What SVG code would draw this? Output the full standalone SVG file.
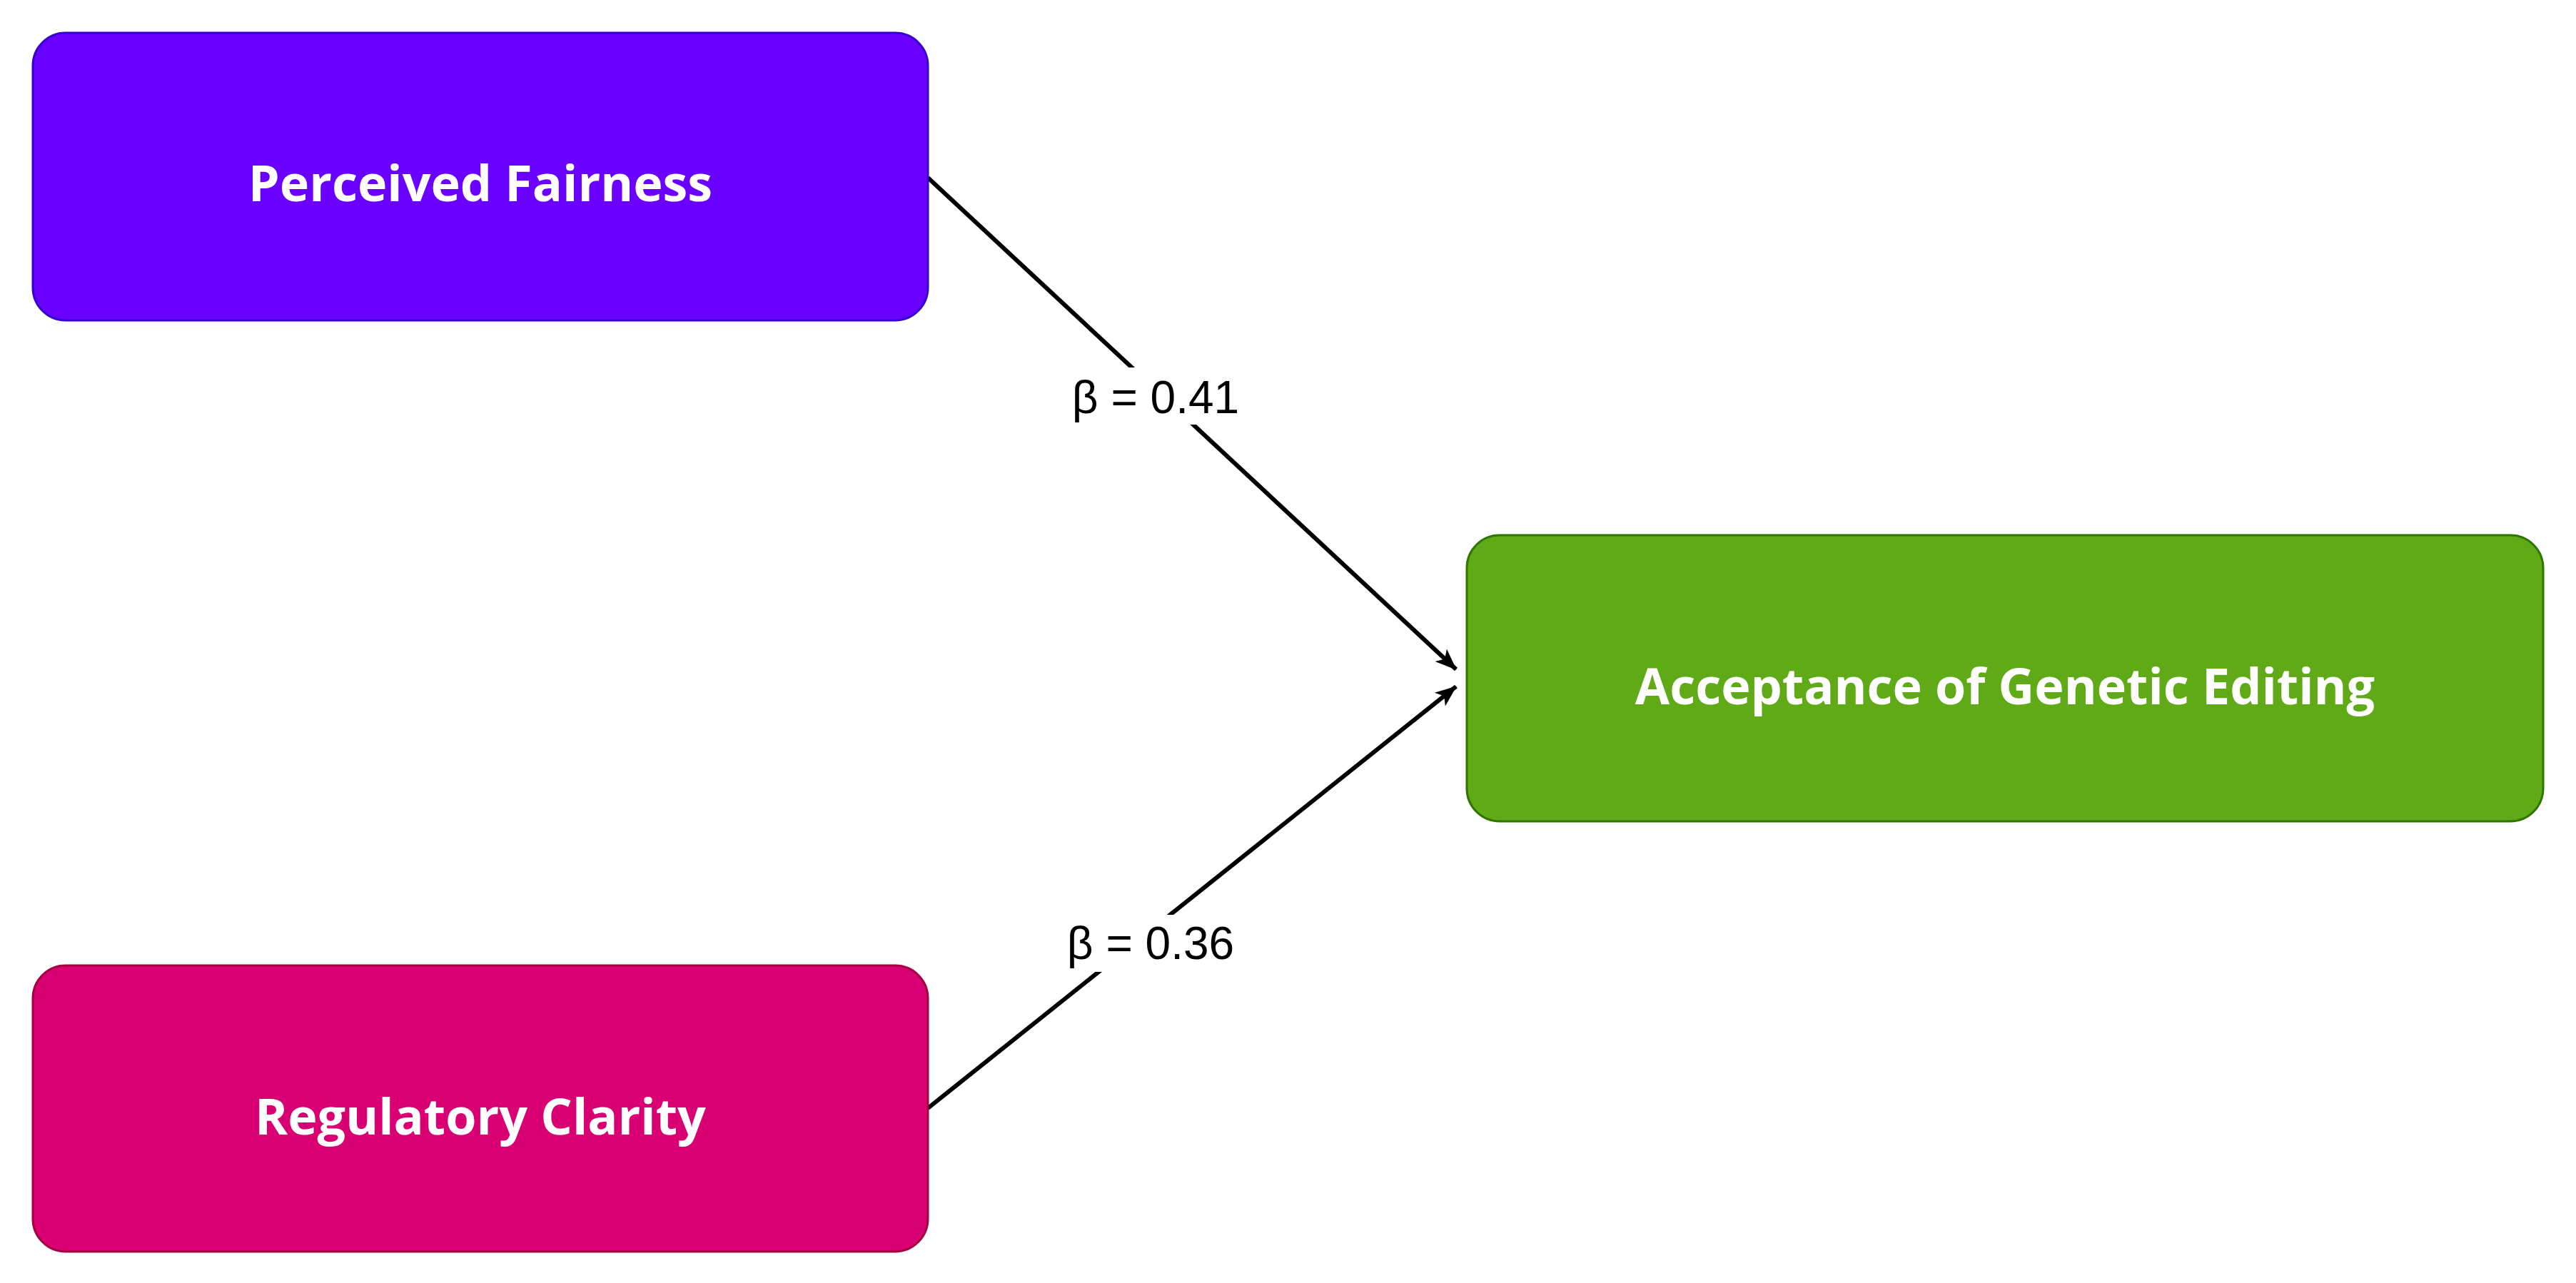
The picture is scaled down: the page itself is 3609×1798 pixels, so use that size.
<svg xmlns="http://www.w3.org/2000/svg" width="3609" height="1798" viewBox="0 0 3609 1798">
<style>
.box{stroke-width:3}
.t{font-family:"Open Sans","DejaVu Sans",sans-serif;font-weight:bold;font-size:70px;fill:#fff;text-anchor:middle;dominant-baseline:central}
.e{stroke:#000;stroke-width:6;fill:none}
.l{font-family:"Liberation Sans",Arial,sans-serif;font-size:64px;fill:#000;text-anchor:middle;dominant-baseline:central}
</style>
<defs>
<marker id="a" viewBox="0 0 20 16" refX="19" refY="8" markerWidth="10" markerHeight="8" markerUnits="userSpaceOnUse" orient="auto" overflow="visible">
<path d="M0,0 L20,8 L0,16 L5,8 Z" fill="#000" transform="scale(3) translate(-13,-5.3)"/>
</marker>
</defs>
<rect width="3609" height="1798" fill="#fff"/>
<g id="edges">
<path class="e" d="M1300,249 L2040,938" marker-end="url(#a)"/>
<path class="e" d="M1300,1553 L2040,962" marker-end="url(#a)"/>
<rect x="1480" y="515" width="280" height="80" fill="#fff"/>
<text class="l" x="1619" y="557">β = 0.41</text>
<rect x="1470" y="1282" width="290" height="80" fill="#fff"/>
<text class="l" x="1612" y="1322">β = 0.36</text>
</g>
<g id="pf"><rect class="box" x="46" y="46" width="1254" height="403" rx="46" fill="#6a00ff" stroke="#3700cc"/><text class="t" x="673" y="255">Perceived Fairness</text></g>
<g id="rc"><rect class="box" x="46" y="1353" width="1254" height="401" rx="46" fill="#d80073" stroke="#a50040"/><text class="t" x="673" y="1563">Regulatory Clarity</text></g>
<g id="ag"><rect class="box" x="2055" y="750" width="1508" height="401" rx="46" fill="#60a917" stroke="#2d7600"/><text class="t" x="2809" y="960">Acceptance of Genetic Editing</text></g>
</svg>
